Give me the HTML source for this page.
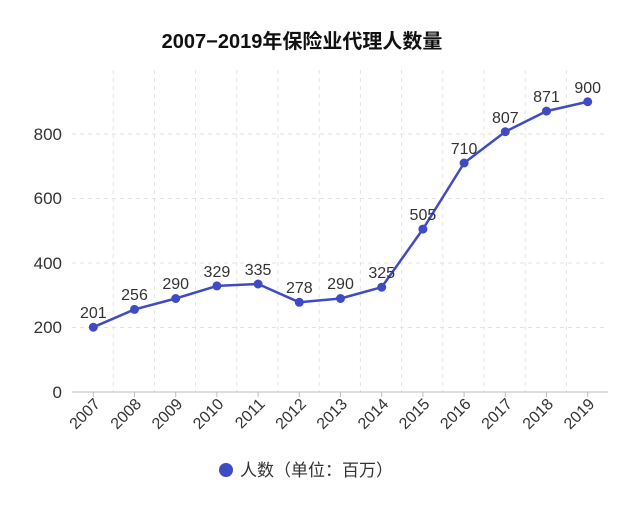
<!DOCTYPE html>
<html><head><meta charset="utf-8"><style>
html,body{margin:0;padding:0;background:#fff;}
svg{display:block;font-family:"Liberation Sans","Noto Sans CJK SC",sans-serif;}
</style></head><body>
<svg width="640" height="512" viewBox="0 0 640 512">
<text x="302" y="48" text-anchor="middle" font-size="20" font-weight="bold" fill="#111">2007−2019年保险业代理人数量</text>
<g stroke="#e3e3e3" stroke-dasharray="4,4" stroke-width="1">
<line x1="72" x2="608" y1="327.5" y2="327.5"/>
<line x1="72" x2="608" y1="263" y2="263"/>
<line x1="72" x2="608" y1="198.5" y2="198.5"/>
<line x1="72" x2="608" y1="134" y2="134"/>
<line x1="113.2" x2="113.2" y1="70" y2="392"/>
<line x1="154.4" x2="154.4" y1="70" y2="392"/>
<line x1="195.6" x2="195.6" y1="70" y2="392"/>
<line x1="236.8" x2="236.8" y1="70" y2="392"/>
<line x1="278" x2="278" y1="70" y2="392"/>
<line x1="319.2" x2="319.2" y1="70" y2="392"/>
<line x1="360.4" x2="360.4" y1="70" y2="392"/>
<line x1="401.6" x2="401.6" y1="70" y2="392"/>
<line x1="442.8" x2="442.8" y1="70" y2="392"/>
<line x1="484" x2="484" y1="70" y2="392"/>
<line x1="525.2" x2="525.2" y1="70" y2="392"/>
<line x1="566.4" x2="566.4" y1="70" y2="392"/>
</g>
<line x1="72" x2="608" y1="392" y2="392" stroke="#bbb"/>
<g stroke="#bbb">
<line x1="93.3" x2="93.3" y1="392" y2="397"/><line x1="134.5" x2="134.5" y1="392" y2="397"/><line x1="175.7" x2="175.7" y1="392" y2="397"/><line x1="216.9" x2="216.9" y1="392" y2="397"/><line x1="258.1" x2="258.1" y1="392" y2="397"/><line x1="299.3" x2="299.3" y1="392" y2="397"/><line x1="340.5" x2="340.5" y1="392" y2="397"/><line x1="381.7" x2="381.7" y1="392" y2="397"/><line x1="422.9" x2="422.9" y1="392" y2="397"/><line x1="464.1" x2="464.1" y1="392" y2="397"/><line x1="505.3" x2="505.3" y1="392" y2="397"/><line x1="546.5" x2="546.5" y1="392" y2="397"/><line x1="587.7" x2="587.7" y1="392" y2="397"/>
</g>
<g font-size="17" fill="#333" text-anchor="end">
<text x="62" y="398">0</text><text x="62" y="333">200</text><text x="62" y="269">400</text><text x="62" y="204">600</text><text x="62" y="140">800</text>
</g>
<g font-size="16" fill="#333" text-anchor="end">
<text transform="translate(101,405) rotate(-45)">2007</text>
<text transform="translate(142.2,405) rotate(-45)">2008</text>
<text transform="translate(183.4,405) rotate(-45)">2009</text>
<text transform="translate(224.6,405) rotate(-45)">2010</text>
<text transform="translate(265.8,405) rotate(-45)">2011</text>
<text transform="translate(307,405) rotate(-45)">2012</text>
<text transform="translate(348.2,405) rotate(-45)">2013</text>
<text transform="translate(389.4,405) rotate(-45)">2014</text>
<text transform="translate(430.6,405) rotate(-45)">2015</text>
<text transform="translate(471.8,405) rotate(-45)">2016</text>
<text transform="translate(513,405) rotate(-45)">2017</text>
<text transform="translate(554.2,405) rotate(-45)">2018</text>
<text transform="translate(595.4,405) rotate(-45)">2019</text>
</g>
<polyline fill="none" stroke="#3f4bc4" stroke-width="2.5" stroke-linejoin="round" points="93.3,327.2 134.5,309.4 175.7,298.5 216.9,285.9 258.1,284 299.3,302.3 340.5,298.5 381.7,287.2 422.9,229.1 464.1,163 505.3,131.7 546.5,111.1 587.7,101.75"/>
<g fill="#3f4bc4">
<circle cx="93.3" cy="327.2" r="4.5"/><circle cx="134.5" cy="309.4" r="4.5"/><circle cx="175.7" cy="298.5" r="4.5"/><circle cx="216.9" cy="285.9" r="4.5"/><circle cx="258.1" cy="284" r="4.5"/><circle cx="299.3" cy="302.3" r="4.5"/><circle cx="340.5" cy="298.5" r="4.5"/><circle cx="381.7" cy="287.2" r="4.5"/><circle cx="422.9" cy="229.1" r="4.5"/><circle cx="464.1" cy="163" r="4.5"/><circle cx="505.3" cy="131.7" r="4.5"/><circle cx="546.5" cy="111.1" r="4.5"/><circle cx="587.7" cy="101.75" r="4.5"/>
</g>
<g font-size="16" fill="#333" text-anchor="middle">
<text x="93.3" y="318">201</text><text x="134.5" y="300">256</text><text x="175.7" y="289">290</text><text x="216.9" y="277">329</text><text x="258.1" y="275">335</text><text x="299.3" y="293">278</text><text x="340.5" y="289">290</text><text x="381.7" y="278">325</text><text x="422.9" y="220">505</text><text x="464.1" y="154">710</text><text x="505.3" y="123">807</text><text x="546.5" y="102">871</text><text x="587.7" y="93">900</text>
</g>
<circle cx="226" cy="470" r="7" fill="#3f4bc4"/>
<text x="240" y="476" font-size="17" fill="#333">人数（单位：百万）</text>
</svg>
</body></html>
